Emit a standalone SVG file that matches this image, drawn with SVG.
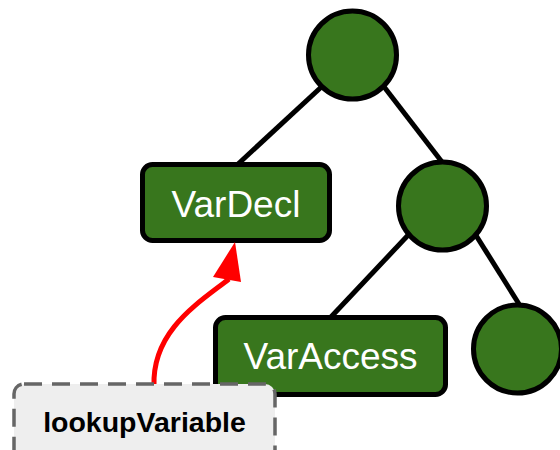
<svg xmlns="http://www.w3.org/2000/svg" width="560" height="450" viewBox="0 0 560 450">
  <style>
    .edge { stroke: #000; stroke-width: 5; fill: none; stroke-linecap: butt; }
    .node { fill: #38761d; stroke: #000; stroke-width: 5; }
    .label { font-family: "Liberation Sans", Arial, sans-serif; font-size: 37px; fill: #fff; text-anchor: middle; }
    .call { fill: #eeeeee; stroke: #666; stroke-width: 3.5; stroke-dasharray: 18 10; }
    .call-label { font-family: "Liberation Sans", Arial, sans-serif; font-size: 28.5px; font-weight: bold; fill: #000; text-anchor: middle; }
  </style>

  <!-- tree edges -->
  <g id="edges">
    <line class="edge" x1="330" y1="79" x2="237" y2="165"/>
    <line class="edge" x1="378" y1="79" x2="442" y2="162"/>
    <line class="edge" x1="412" y1="231" x2="330" y2="318"/>
    <line class="edge" x1="472" y1="229" x2="519" y2="304"/>
  </g>

  <g id="root">
    <circle class="node" cx="352.5" cy="55" r="44"/>
  </g>
  <g id="inner">
    <circle class="node" cx="442.5" cy="206" r="44"/>
  </g>
  <g id="leaf">
    <circle class="node" cx="517.5" cy="349" r="44"/>
  </g>

  <g id="vardecl">
    <rect class="node" x="142.5" y="164.5" width="187" height="76" rx="10"/>
    <text class="label" x="236" y="217">VarDecl</text>
  </g>

  <g id="varaccess">
    <rect class="node" x="215.5" y="317.5" width="230" height="77" rx="10"/>
    <text class="label" x="330.5" y="369">VarAccess</text>
  </g>

  <!-- lookup arrow -->
  <g id="lookup-arrow">
    <path d="M 154 386 C 152 330 200 302 229 279" fill="none" stroke="#ff0000" stroke-width="5"/>
    <polygon points="235,242 213,277 241,282" fill="#ff0000"/>
  </g>

  <g id="lookupVariable">
    <rect class="call" x="14" y="384" width="261" height="80" rx="10"/>
    <text class="call-label" x="144.5" y="432">lookupVariable</text>
  </g>
</svg>
